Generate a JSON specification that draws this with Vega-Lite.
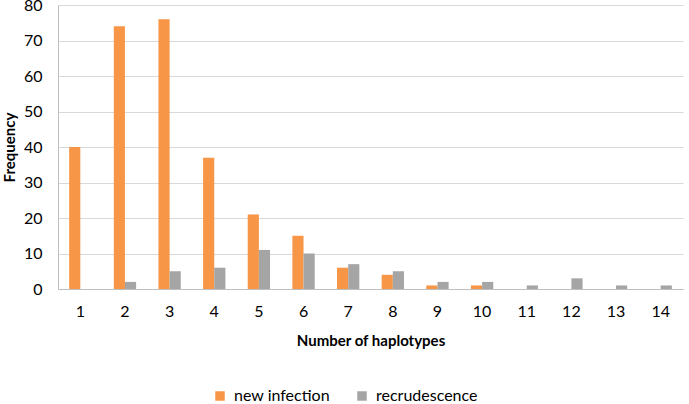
{
  "$schema": "https://vega.github.io/schema/vega-lite/v6.json",
  "autosize": {"type": "none"},
  "width": 625,
  "height": 284,
  "padding": {"left": 58, "top": 5, "right": 6, "bottom": 115},
  "background": "white",
  "data": {"values": [
    {"h": 1, "s": "new infection", "v": 40}, {"h": 1, "s": "recrudescence", "v": 0},
    {"h": 2, "s": "new infection", "v": 74}, {"h": 2, "s": "recrudescence", "v": 2},
    {"h": 3, "s": "new infection", "v": 76}, {"h": 3, "s": "recrudescence", "v": 5},
    {"h": 4, "s": "new infection", "v": 37}, {"h": 4, "s": "recrudescence", "v": 6},
    {"h": 5, "s": "new infection", "v": 21}, {"h": 5, "s": "recrudescence", "v": 11},
    {"h": 6, "s": "new infection", "v": 15}, {"h": 6, "s": "recrudescence", "v": 10},
    {"h": 7, "s": "new infection", "v": 6}, {"h": 7, "s": "recrudescence", "v": 7},
    {"h": 8, "s": "new infection", "v": 4}, {"h": 8, "s": "recrudescence", "v": 5},
    {"h": 9, "s": "new infection", "v": 1}, {"h": 9, "s": "recrudescence", "v": 2},
    {"h": 10, "s": "new infection", "v": 1}, {"h": 10, "s": "recrudescence", "v": 2},
    {"h": 11, "s": "new infection", "v": 0}, {"h": 11, "s": "recrudescence", "v": 1},
    {"h": 12, "s": "new infection", "v": 0}, {"h": 12, "s": "recrudescence", "v": 3},
    {"h": 13, "s": "new infection", "v": 0}, {"h": 13, "s": "recrudescence", "v": 1},
    {"h": 14, "s": "new infection", "v": 0}, {"h": 14, "s": "recrudescence", "v": 1}
  ]},
  "mark": {"type": "bar"},
  "encoding": {
    "x": {
      "field": "h", "type": "ordinal",
      "scale": {"paddingInner": 0.5, "paddingOuter": 0.25},
      "axis": {"title": "Number of haplotypes", "labelAngle": 0, "ticks": false, "labelPadding": 14,
               "labelFont": "Lato", "labelFontSize": 16, "labelColor": "#000",
               "titleFont": "Lato", "titleFontSize": 15, "titleFontWeight": "bold", "titleColor": "#000",
               "titlePadding": 14, "domainColor": "#bfbfbf", "grid": false}
    },
    "xOffset": {"field": "s", "type": "nominal", "scale": {"paddingInner": 0, "paddingOuter": 0}},
    "y": {
      "field": "v", "type": "quantitative",
      "scale": {"domain": [0, 80]},
      "axis": {"title": "Frequency", "values": [0,10,20,30,40,50,60,70,80], "ticks": false,
               "labelFont": "Lato", "labelFontSize": 16, "labelColor": "#000", "labelPadding": 16,
               "titleFont": "Lato", "titleFontSize": 15, "titleFontWeight": "bold", "titleColor": "#000",
               "titlePadding": 6, "domainColor": "#bfbfbf", "gridColor": "#d9d9d9"}
    },
    "color": {
      "field": "s", "type": "nominal",
      "scale": {"domain": ["new infection", "recrudescence"], "range": ["#F79646", "#A5A5A5"]},
      "legend": {"title": null, "orient": "none", "legendX": 154, "legendY": 383, "direction": "horizontal",
                 "symbolType": "square", "symbolSize": 90, "labelFont": "Lato", "labelFontSize": 16,
                 "labelColor": "#000", "columnPadding": 24, "symbolStrokeWidth": 0, "labelOffset": 6}
    }
  },
  "config": {"view": {"stroke": null}}
}
